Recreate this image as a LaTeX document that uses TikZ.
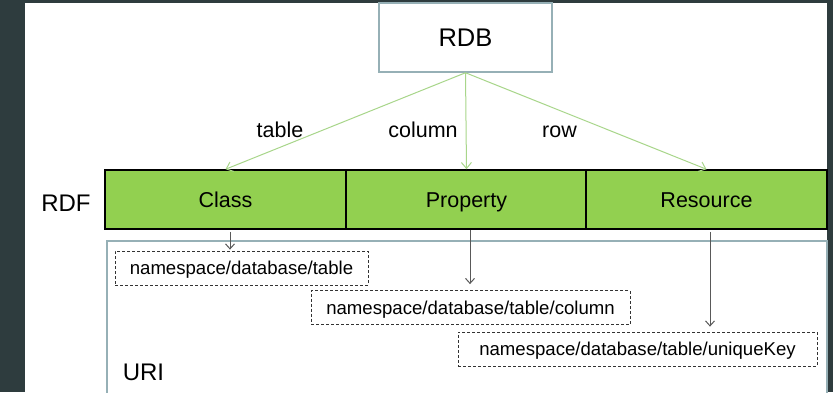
\documentclass[tikz,border=0pt]{standalone}
\usepackage{fontspec}
\setmainfont{Liberation Sans}
\usetikzlibrary{arrows.meta}
\definecolor{slidebg}{RGB}{46,60,62}
\definecolor{cellgreen}{RGB}{146,208,80}
\definecolor{mapgreen}{RGB}{168,214,138}
\definecolor{framegray}{RGB}{150,176,182}
\providecommand{\RMbig}{\fontsize{25.5}{28}\selectfont}
\providecommand{\RMside}{\fontsize{24}{27}\selectfont}
\providecommand{\RMcell}{\fontsize{21.5}{24}\selectfont}
\providecommand{\RMuri}{\fontsize{18.6}{21}\selectfont}
\tikzset{
  txt/.style={inner sep=0pt, text depth=0pt},
  dbbox/.style={txt, rectangle, draw=framegray, line width=1.5pt, font=\RMbig,
                text height=18.4pt, minimum width=173pt, minimum height=69pt},
  cell/.style={txt, rectangle, draw=black, line width=1.5pt, fill=cellgreen,
               font=\RMcell, text height=15.5pt,
               minimum width=241pt, minimum height=59pt},
  side/.style={txt, font=\RMside, text height=17.3pt},
  maplbl/.style={txt, font=\RMcell, text height=15.5pt},
  frame/.style={rectangle, draw=framegray, line width=1.5pt, anchor=north west,
                inner sep=0pt, minimum width=720pt, minimum height=200pt},
  uribox/.style={txt, rectangle, draw=black!80, dash pattern=on 3pt off 2pt,
                 line width=0.8pt, font=\RMuri, text height=13.4pt,
                 minimum height=34pt},
  map/.style={draw=mapgreen, line width=1pt, -{Straight Barb[length=6pt,width=10pt]}},
  link/.style={draw=black!65, line width=1pt, -{Straight Barb[length=5pt,width=9pt]}}
}

\begin{document}
\begin{tikzpicture}[x=1pt, y=-1pt]

\useasboundingbox (0,0) rectangle (833,392);
\clip (0,0) rectangle (833,392);
\fill[slidebg] (0,0) rectangle (833,392);
\fill[white] (25,3) rectangle (827,392);

\node (rdb) [dbbox] at (465.5,37.5) {RDB};

\foreach \cx/\cname/\ctext in {225.5/class/Class, 466.5/prop/Property, 706.5/res/Resource}{
  \node (\cname) [cell] at (\cx,199.5) {\ctext};
}

\node (rdf) [side] at (66,202.4) {RDF};

% URI frame
\node (uri) [frame] at (106,240) {};
\node (urilbl) [side] at (143.5,371.4) {URI};

\node (nsa) [uribox, minimum width=253pt] at (241.5,268)
    {namespace/database/table};
\node (nsb) [uribox, minimum width=319pt] at (470.5,307.5)
    {namespace/database/table/column};
\node (nsc) [uribox, minimum width=359pt] at (637.5,349)
    {namespace/database/table/uniqueKey};

% RDB -> RDF
\draw[map] (rdb.south) -- (class.north);
\draw[map] (rdb.south) -- (prop.north);
\draw[map] (rdb.south) -- (res.north);

\node (ltable) [maplbl] at (280,129.3) {table};
\node (lcolumn) [maplbl] at (423,129.3) {column};
\node (lrow) [maplbl] at (559.5,129.3) {row};

% RDF -> URI
\draw[link]
    ([xshift=4.5pt,yshift=-2pt]class.south) --
    ([xshift=4.5pt,yshift=1pt]class.south |- nsa.north);

\draw[link]
    ([xshift=3.5pt]prop.south) --
    ([xshift=3.5pt,yshift=6pt]prop.south |- nsb.north);

\draw[link]
    ([xshift=3.5pt,yshift=-2pt]res.south) --
    ([xshift=3.5pt,yshift=5pt]res.south |- nsc.north);

\end{tikzpicture}
\end{document}
